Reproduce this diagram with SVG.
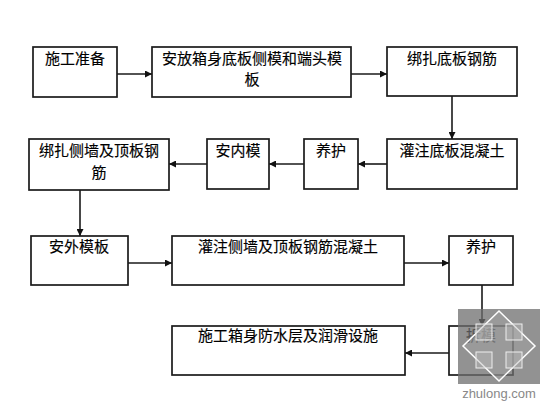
<svg xmlns="http://www.w3.org/2000/svg" width="560" height="420" viewBox="0 0 560 420">
<style>
.box{fill:#fff;stroke:#1a1a1a;stroke-width:1.7}
.t{font-family:"Noto Sans CJK SC","Noto Sans",sans-serif;font-size:15px;fill:#000;stroke:#000;stroke-width:0.15;text-anchor:middle}
.c{stroke:#1a1a1a;stroke-width:1.6;fill:none;marker-end:url(#ah)}
</style>
<defs>
<marker id="ah" viewBox="0 0 10 10" refX="10" refY="5" markerWidth="7" markerHeight="7" markerUnits="userSpaceOnUse" orient="auto">
<path d="M0,0 L10,5 L0,10 z" fill="#111"/>
</marker>
</defs>
<rect width="560" height="420" fill="#fff"/>
<g id="connectors">
<line class="c" x1="117" y1="74" x2="152" y2="74"/>
<line class="c" x1="351" y1="74" x2="387" y2="74"/>
<line class="c" x1="452" y1="96" x2="452" y2="139"/>
<line class="c" x1="387" y1="164" x2="358" y2="164"/>
<line class="c" x1="304" y1="164" x2="269" y2="164"/>
<line class="c" x1="207" y1="164" x2="169" y2="164"/>
<line class="c" x1="80" y1="190" x2="80" y2="236"/>
<line class="c" x1="128" y1="263" x2="172" y2="263"/>
<line class="c" x1="404" y1="263" x2="449" y2="263"/>
<line class="c" x1="482" y1="285" x2="482" y2="326"/>
<line class="c" x1="449" y1="353" x2="405" y2="353"/>
</g>
<g id="n1"><rect class="box" x="33" y="47" width="84" height="50"/><text class="t" x="75" y="64">施工准备</text></g>
<g id="n2"><rect class="box" x="152" y="47" width="199" height="50"/><text class="t" x="252" y="64">安放箱身底板侧模和端头模</text><text class="t" x="252" y="85">板</text></g>
<g id="n3"><rect class="box" x="387" y="47" width="130" height="49"/><text class="t" x="452" y="64">绑扎底板钢筋</text></g>
<g id="n4"><rect class="box" x="387" y="139" width="130" height="50"/><text class="t" x="452" y="156">灌注底板混凝土</text></g>
<g id="n5"><rect class="box" x="304" y="139" width="54" height="50"/><text class="t" x="331" y="156">养护</text></g>
<g id="n6"><rect class="box" x="207" y="139" width="62" height="50"/><text class="t" x="238" y="156">安内模</text></g>
<g id="n7"><rect class="box" x="29" y="139" width="140" height="51"/><text class="t" x="99" y="156">绑扎侧墙及顶板钢</text><text class="t" x="99" y="178">筋</text></g>
<g id="n8"><rect class="box" x="31" y="236" width="97" height="49"/><text class="t" x="79" y="252">安外模板</text></g>
<g id="n9"><rect class="box" x="172" y="236" width="232" height="49"/><text class="t" x="288" y="252">灌注侧墙及顶板钢筋混凝土</text></g>
<g id="n10"><rect class="box" x="449" y="236" width="64" height="49"/><text class="t" x="481" y="252">养护</text></g>
<g id="n11"><rect class="box" x="449" y="326" width="64" height="49"/><text class="t" x="481" y="341">拆模</text></g>
<g id="n12"><rect class="box" x="172" y="326" width="233" height="49"/><text class="t" x="288" y="341">施工箱身防水层及润滑设施</text></g>
<g id="watermark">
<rect x="458" y="309" width="82" height="75" fill="#6e6e6e" opacity="0.75"/>
<path d="M499,311 L535,346 L499,381 L463,346 Z" fill="#aaa" fill-opacity="0.35" stroke="#fff" stroke-width="1.5"/>
<g fill="#bbb" fill-opacity="0.45" stroke="#eee">
<rect x="476" y="324" width="16" height="16"/>
<rect x="506" y="324" width="16" height="16"/>
<rect x="476" y="352" width="16" height="16"/>
<rect x="506" y="352" width="16" height="16"/>
</g>
<text x="499" y="398" font-family="Liberation Sans,sans-serif" font-size="13" fill="#888" text-anchor="middle">zhulong.com</text>
</g>
</svg>
